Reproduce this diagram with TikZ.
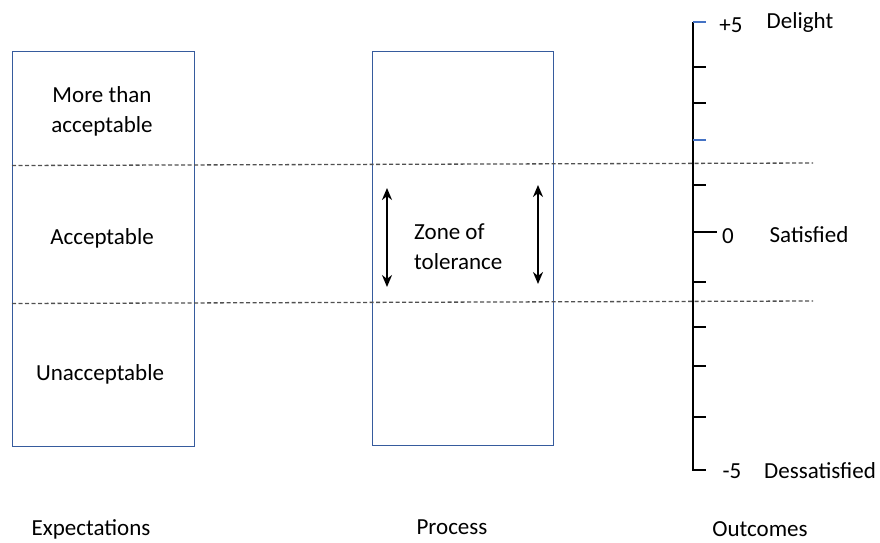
\documentclass[tikz,border=0pt]{standalone}
\usepackage{fontspec}
\setmainfont{Carlito}
\usetikzlibrary{arrows.meta}
\definecolor{boxblue}{HTML}{4472C4}
\definecolor{dashgray}{HTML}{505050}
\begin{document}
\begin{tikzpicture}[x=1pt,y=-1pt,
  lbl/.style={inner sep=0pt,font=\fontsize{23}{30}\selectfont,text=black},
  colbox/.style={draw=boxblue!80!black,line width=1pt,inner sep=0pt},
  sep/.style={draw=dashgray,line width=1.3pt,dash pattern=on 4pt off 2.5pt},
  tol/.style={line width=2.6pt,{Stealth[length=12pt,width=10pt]}-{Stealth[length=12pt,width=10pt]}},
  tick/.style={line width=1.3pt},
  bluetick/.style={line width=1.3pt,draw=boxblue}]
\useasboundingbox (0,0) rectangle (880,542);
% boxes
\node[colbox,minimum width=182pt,minimum height=395pt] (exp) at (103,248.5) {};
\node[colbox,minimum width=181pt,minimum height=394pt] (proc) at (462.5,248) {};
% dashed separators
\coordinate (u1) at (12,165.5); \coordinate (u2) at (813,163);
\coordinate (l1) at (12,303.5); \coordinate (l2) at (813,301);
\draw[sep] (u1) -- (u2);
\draw[sep] (l1) -- (l2);
% texts in expectations box
\node[lbl,align=center] (more) at (102,111) {More than\\acceptable};
\node[lbl] (acc) at (102,238) {Acceptable};
\node[lbl] (unacc) at (100,374) {Unacceptable};
% process
\node[lbl,align=left,anchor=west] (zone) at (414,247) {Zone of\\tolerance};
\coordinate (a1t) at (387,188); \coordinate (a1b) at (387,287);
\coordinate (a2t) at (538,185); \coordinate (a2b) at (538,284);
\draw[tol] (a1t) -- (a1b);
\draw[tol] (a2t) -- (a2b);
% column titles
\node[lbl] (texp) at (91,529.5) {Expectations};
\node[lbl] (tproc) at (452,527) {Process};
\node[lbl] (tout) at (760,529.5) {Outcomes};
% scale
\coordinate (ax0) at (693,22); \coordinate (ax1) at (693,470);
\draw[tick] (ax0) -- (ax1) -- ++(13,0);
\draw[bluetick] (ax0) -- ++(13,0);
\draw[bluetick] (693,140) -- ++(13,0);
\foreach \yy in {67,103,185,282,327,366,417} \draw[tick] (693,\yy) -- ++(13,0);
\draw[tick] (693,232) -- ++(24,0);
\node[lbl] (p5) at (731,25) {+5};
\node[lbl] (del) at (800,22) {Delight};
\node[lbl] (z0) at (728,236) {0};
\node[lbl] (sat) at (809,235) {Satisfied};
\node[lbl] (m5) at (732,471) {-5};
\node[lbl] (dis) at (820,471) {Dessatisfied};
\end{tikzpicture}
\end{document}
